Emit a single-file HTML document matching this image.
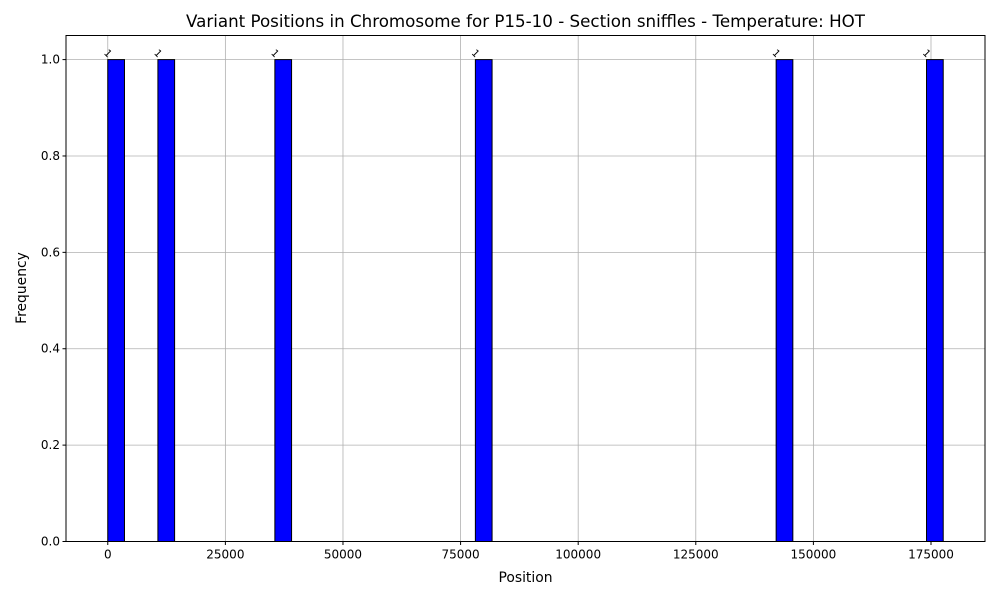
<!DOCTYPE html>
<html><head><meta charset="utf-8"><style>
body{margin:0;background:#fff;}
svg{display:block;font-family:"DejaVu Sans","Liberation Sans",sans-serif;}
</style></head><body>
<svg id="chart" width="1000" height="600">
<text x="525.5" y="27" font-size="16.7" text-anchor="middle">Variant Positions in Chromosome for P15-10 - Section sniffles - Temperature: HOT</text>
<text x="525.5" y="582" font-size="13.9" text-anchor="middle">Position</text>
<text x="26" y="288" font-size="13.9" text-anchor="middle" transform="rotate(-90 26 288)">Frequency</text>
<g id="grid"></g><g id="bars"></g><g id="ticks"></g>
<rect x="66" y="35.5" width="919" height="506" fill="none" stroke="#000" stroke-width="1"/>
</svg>
<script>
const positions=[0,11500,36000,78800,143000,177600];
const numBins=50;
const xTicks=[0,25000,50000,75000,100000,125000,150000,175000];
const yTicks=[0,0.2,0.4,0.6,0.8,1.0];
const NS="http://www.w3.org/2000/svg";
const X0=66,X1=985,Y0=541.5,Y1=35.5;
const minV=Math.min(...positions),maxV=Math.max(...positions);
const bw=(maxV-minV)/numBins;
const counts=new Array(numBins).fill(0);
positions.forEach(p=>{let i=Math.floor((p-minV)/bw);if(i>=numBins)i=numBins-1;counts[i]++;});
const R=maxV-minV,xmin=minV-0.05*R,xmax=maxV+0.05*R;
const ymax=Math.max(...counts)*1.05;
const sx=v=>X0+(v-xmin)/(xmax-xmin)*(X1-X0);
const sy=v=>Y0-v/ymax*(Y0-Y1);
function mk(t,a,p){const e=document.createElementNS(NS,t);for(const k in a)e.setAttribute(k,a[k]);p.appendChild(e);return e;}
const grid=document.getElementById('grid'),bars=document.getElementById('bars'),ticks=document.getElementById('ticks');
xTicks.forEach(t=>{const x=sx(t);
 const g=mk('line',{x1:x,x2:x,y1:Y1,y2:Y0,stroke:'#b0b0b0','stroke-width':0.8},grid);
 
 
 mk('line',{x1:x,x2:x,y1:Y0,y2:Y0+3.5,stroke:'#000'},ticks);
 const l=mk('text',{x:x,y:Y0+17,'font-size':12,'text-anchor':'middle'},ticks);l.textContent=t;
 
 
});
yTicks.forEach(t=>{const y=sy(t);
 const g=mk('line',{x1:X0,x2:X1,y1:y,y2:y,stroke:'#b0b0b0','stroke-width':0.8},grid);
 
 
 mk('line',{x1:X0-3.5,x2:X0,y1:y,y2:y,stroke:'#000'},ticks);
 const l=mk('text',{x:X0-6,y:y+4,'font-size':12,'text-anchor':'end'},ticks);l.textContent=t.toFixed(1);
 
 
});
counts.forEach((c,i)=>{if(!c)return;
 const xa=sx(minV+i*bw),xb=sx(minV+(i+1)*bw),y=sy(c);
 const r=mk('rect',{x:xa,y:y,width:xb-xa,height:Y0-y,fill:'#0000ff',stroke:'#000','stroke-width':1},bars);
 
 
 const t=mk('text',{x:xa,y:y-3,'font-size':10,'text-anchor':'middle',transform:`rotate(45 ${xa} ${y-6})`},bars);t.textContent=c;
 
 
});
</script>
</body></html>
